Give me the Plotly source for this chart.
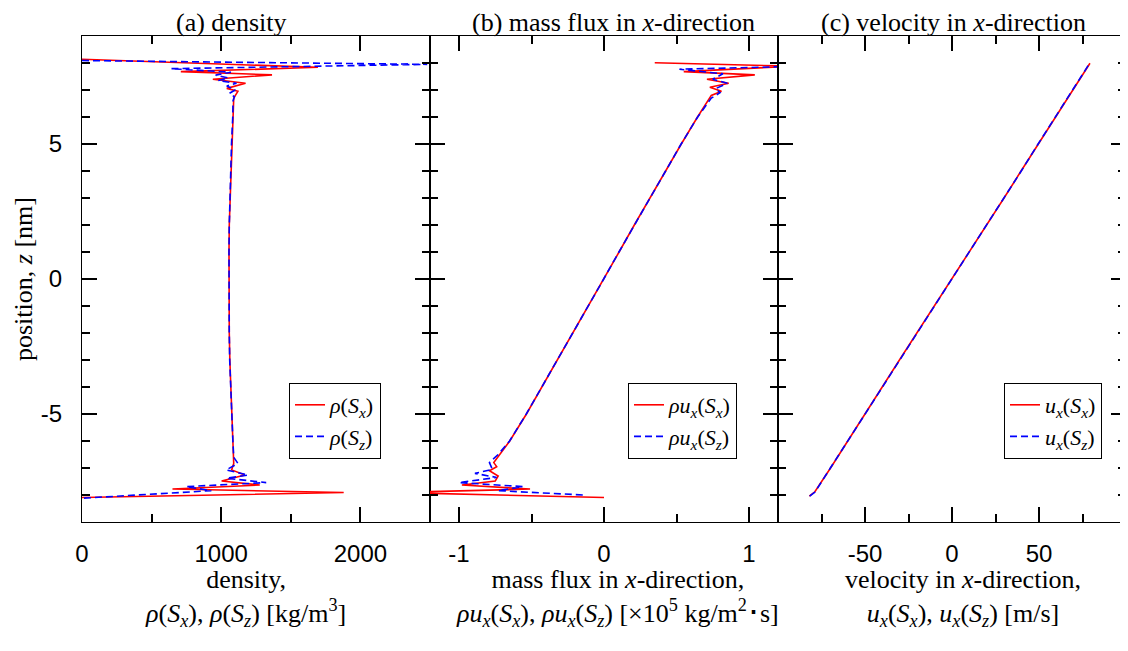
import plotly.graph_objects as go

# ---------------- data ----------------
# (a) density [kg/m3]
z_rho_x = [8.14, 7.84, 7.68, 7.56, 7.40, 7.25, 7.06, 6.95, 6.70, 6.0, 5.0, 4.0, 3.0, 2.0, 1.0, 0.0,
           -1.0, -2.0, -3.0, -4.0, -5.0, -6.0, -6.83, -7.07, -7.26, -7.48, -7.63, -7.78, -7.91, -8.09]
rho_x = [0, 1695, 710, 1365, 940, 1175, 1040, 1120, 1090, 1085, 1075, 1068, 1062, 1058, 1056, 1055,
         1056, 1058, 1062, 1068, 1075, 1085, 1090, 1075, 1170, 1003, 1277, 650, 1880, 0]
z_rho_z = [8.09, 7.95, 7.79, 7.66, 7.55, 7.45, 7.35, 7.25, 7.15, 7.00, 6.88, 6.75, 6.6, 6.0, 5.0, 4.0,
           3.0, 2.0, 1.0, 0.0, -1.0, -2.0, -3.0, -4.0, -5.0, -6.0, -6.6, -6.83, -7.07, -7.26,
           -7.38, -7.54, -7.69, -7.84, -8.12]
rho_z = [0, 2480, 640, 1070, 960, 1050, 980, 1110, 1040, 1100, 1060, 1095, 1085, 1083, 1074, 1067,
         1062, 1058, 1056, 1055, 1056, 1058, 1061, 1067, 1074, 1084, 1090, 1120, 1036, 1192,
         1040, 1323, 749, 929, 0]

# (b) mass flux in x-direction [x1e5 kg/m2 s]
z_flux_x = [8.01, 7.88, 7.68, 7.56, 7.40, 7.25, 7.10, 6.95, 6.80, 6.0, 5.0, 4.0, 3.0, 2.0, 1.0, 0.0,
            -1.0, -2.0, -3.0, -4.0, -5.0, -6.0, -6.5, -6.8, -6.95, -7.10, -7.30, -7.48, -7.63,
            -7.78, -7.91, -8.09]
flux_x = [0.35, 1.30, 0.55, 1.04, 0.71, 0.86, 0.73, 0.81, 0.74, 0.645, 0.533, 0.424, 0.317, 0.209,
          0.104, -0.003, -0.107, -0.213, -0.320, -0.430, -0.535, -0.650, -0.720, -0.76, -0.74,
          -0.79, -0.73, -0.75, -0.98, -0.51, -1.45, 0.0]
z_flux_z = [7.95, 7.77, 7.60, 7.40, 7.25, 7.05, 6.90, 6.70, 6.0, 5.0, 4.0, 3.0, 2.0, 1.0, 0.0,
            -1.0, -2.0, -3.0, -4.0, -5.0, -6.0, -6.5, -6.8, -7.05, -7.20, -7.35, -7.54, -7.69,
            -7.84, -8.0]
flux_z = [1.90, 0.52, 0.82, 0.75, 0.85, 0.77, 0.80, 0.74, 0.646, 0.532, 0.425, 0.316, 0.210,
          0.103, -0.002, -0.108, -0.212, -0.321, -0.429, -0.536, -0.651, -0.73, -0.79, -0.77,
          -0.89, -0.74, -1.00, -0.56, -0.73, -0.14]

# (c) velocity in x-direction [m/s]
z_vel = [-8.04, -7.88, -7.0, -6.0, -5.0, -4.0, -3.0, -2.0, -1.0, 0.0, 1.0, 2.0, 3.0, 4.0, 5.0,
         6.0, 7.0, 7.99]
vel_x = [-82.0, -78.8, -69.8, -60.0, -50.1, -40.3, -30.2, -20.2, -10.1, -0.3, 9.8, 19.8, 29.9,
         39.7, 49.6, 59.5, 69.4, 79.3]
vel_z = [-81.8, -78.6, -69.9, -59.9, -50.2, -40.2, -30.3, -20.1, -10.2, -0.2, 9.9, 19.7, 29.8,
         39.8, 49.5, 59.6, 69.3, 79.1]

# tick labels
y_tickvals = [-5, 0, 5]
y_ticktext = ["-5", "0", "5"]
x_tickvals = [[0, 1000, 2000], [-1, 0, 1], [-50, 0, 50]]
x_ticktext = [["0", "1000", "2000"], ["-1", "0", "1"], ["-50", "0", "50"]]

titles = ["(a) density", "(b) mass flux in <i>x</i>-direction", "(c) velocity in <i>x</i>-direction"]
xtitles = [
    "density,<br><i>ρ</i>(<i>S<sub>x</sub></i>), <i>ρ</i>(<i>S<sub>z</sub></i>) [kg/m<sup>3</sup>]",
    "mass flux in <i>x</i>-direction,<br><i>ρu<sub>x</sub></i>(<i>S<sub>x</sub></i>), <i>ρu<sub>x</sub></i>(<i>S<sub>z</sub></i>) [×10<sup>5</sup> kg/m<sup>2</sup>･s]",
    "velocity in <i>x</i>-direction,<br><i>u<sub>x</sub></i>(<i>S<sub>x</sub></i>), <i>u<sub>x</sub></i>(<i>S<sub>z</sub></i>) [m/s]",
]
names_x = ["<i>ρ</i>(<i>S<sub>x</sub></i>)", "<i>ρu<sub>x</sub></i>(<i>S<sub>x</sub></i>)", "<i>u<sub>x</sub></i>(<i>S<sub>x</sub></i>)"]
names_z = ["<i>ρ</i>(<i>S<sub>z</sub></i>)", "<i>ρu<sub>x</sub></i>(<i>S<sub>z</sub></i>)", "<i>u<sub>x</sub></i>(<i>S<sub>z</sub></i>)"]

# ---------------- figure ----------------
OFF = 8                      # page body margin of the browser
W, H = 1128 - OFF, 651 - OFF
L, R, T, B = 82 - OFF, 2, 36 - OFF, 129
pw = W - L - R
ph = H - T - B


def px(xr):
    """reference-pixel x -> paper coordinate"""
    return (xr - OFF - L) / pw


def py(yr):
    """reference-pixel y -> paper coordinate"""
    return (T + ph - (yr - OFF)) / ph


SERIF = "Times, DejaVu Serif"
SANS = "Liberation Sans, Arial"

fig = go.Figure()
series = [
    (z_rho_x, rho_x, z_rho_z, rho_z),
    (z_flux_x, flux_x, z_flux_z, flux_z),
    (z_vel, vel_x, z_vel, vel_z),
]
legkeys = ["legend", "legend2", "legend3"]
for i, (zx, vx, zz, vz) in enumerate(series):
    xa = "x" if i == 0 else f"x{i+1}"
    ya = "y" if i == 0 else f"y{i+1}"
    fig.add_trace(go.Scatter(x=vx, y=zx, mode="lines", name=names_x[i], xaxis=xa, yaxis=ya,
                             line=dict(color="#ff0000", width=1.6), legend=legkeys[i]))
    fig.add_trace(go.Scatter(x=vz, y=zz, mode="lines", name=names_z[i], xaxis=xa, yaxis=ya,
                             line=dict(color="#0000ff", width=1.6, dash="7px,4px"), legend=legkeys[i]))

xranges = [[0, 2500], [-1.2, 1.2], [-100, 100]]
xminor = [500, 0.5, 25]
third = 1.0 / 3.0
domains = [[0, third], [third, 2 * third], [2 * third, 1]]

axis_common = dict(showline=True, linecolor="black", linewidth=1.3, mirror="allticks",
                   ticks="inside", ticklen=15, tickwidth=1.5, tickcolor="black",
                   showgrid=False, zeroline=False,
                   tickfont=dict(family=SANS, size=24, color="black"))

layout = {}
for i in range(3):
    xk = "xaxis" if i == 0 else f"xaxis{i+1}"
    yk = "yaxis" if i == 0 else f"yaxis{i+1}"
    layout[xk] = dict(axis_common, domain=domains[i], range=xranges[i],
                      tickmode="array", tickvals=x_tickvals[i], ticktext=x_ticktext[i],
                      anchor="y" if i == 0 else f"y{i+1}", ticklabelstandoff=10,
                      minor=dict(dtick=xminor[i], tick0=0, ticks="inside", ticklen=8,
                                 tickwidth=1.5, tickcolor="black", showgrid=False))
    layout[yk] = dict(axis_common, domain=[0, 1], range=[-9, 9],
                      tickmode="array", tickvals=y_tickvals, ticktext=y_ticktext,
                      anchor="x" if i == 0 else f"x{i+1}", showticklabels=(i == 0),
                      ticklabelstandoff=14,
                      minor=dict(dtick=1, tick0=0, ticks="inside", ticklen=8,
                                 tickwidth=1.5, tickcolor="black", showgrid=False))
    if i > 0:
        layout[yk]["matches"] = "y"

leg_right_px = [381, 737, 1102]
leg_bottom_px = 459
for i in range(3):
    lk = legkeys[i]
    layout[lk] = dict(x=px(leg_right_px[i]), y=py(leg_bottom_px),
                      xanchor="right", yanchor="bottom", xref="paper", yref="paper",
                      bgcolor="white", bordercolor="black", borderwidth=1,
                      font=dict(family=SERIF, size=22, color="black"),
                      tracegroupgap=0, itemwidth=30)

fig.update_layout(**layout)

annotations = []
title_cx = [231, 613, 953]
for i in range(3):
    annotations.append(dict(text=titles[i], x=px(title_cx[i]), y=py(22),
                            xref="paper", yref="paper", showarrow=False, xanchor="center",
                            yanchor="middle", font=dict(family=SERIF, size=26, color="black")))
xt_cx = [245, 617, 963]
for i in range(3):
    annotations.append(dict(text=xtitles[i], x=px(xt_cx[i]), y=py(563),
                            xref="paper", yref="paper", showarrow=False, xanchor="center",
                            yanchor="top", align="center",
                            font=dict(family=SERIF, size=26, color="black")))
annotations.append(dict(text="position, <i>z</i> [nm]", x=px(23), y=py(279),
                        xref="paper", yref="paper", showarrow=False, textangle=-90,
                        xanchor="center", yanchor="middle",
                        font=dict(family=SERIF, size=26, color="black")))

fig.update_layout(width=W, height=H, margin=dict(l=L, r=R, t=T, b=B, autoexpand=False),
                  paper_bgcolor="white", plot_bgcolor="white", showlegend=True,
                  annotations=annotations)

fig.write_html("out.html")
